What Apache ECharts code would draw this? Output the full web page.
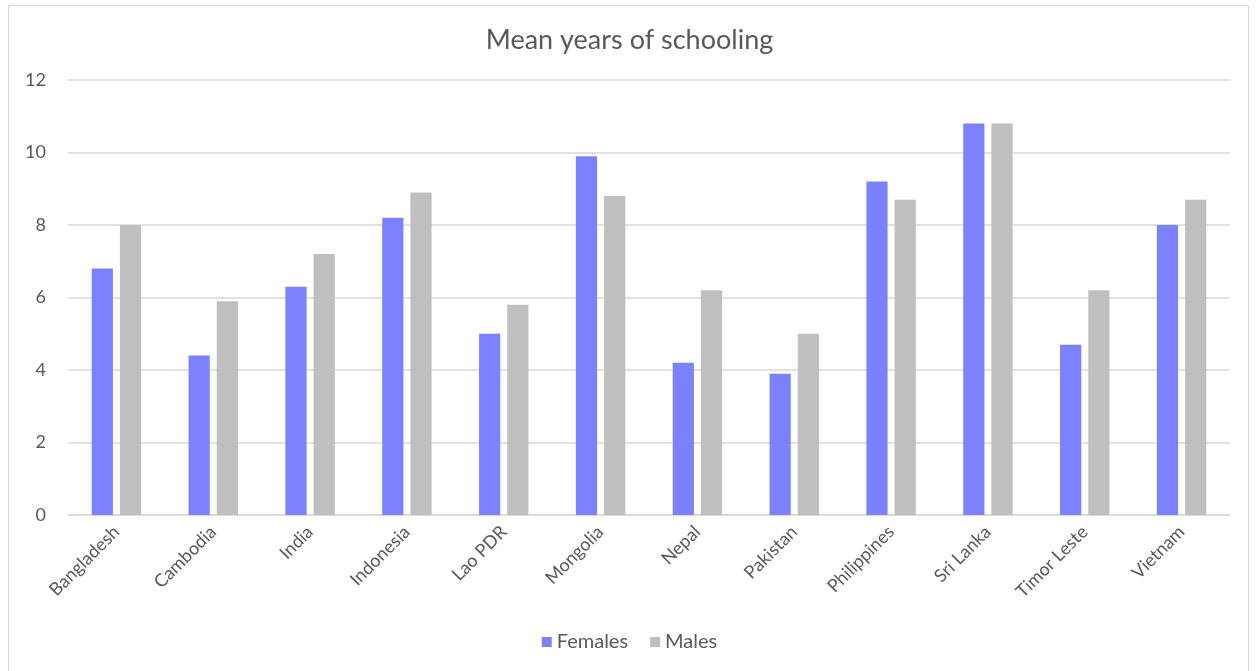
<!DOCTYPE html>
<html>
<head>
<meta charset="utf-8">
<script src="https://cdn.jsdelivr.net/npm/echarts@6/dist/echarts.min.js"></script>
<style>
  html, body { margin: 0; padding: 0; background: #fff; }
  #frame {
    position: absolute; left: 8px; top: 5px; width: 1241px; height: 680px;
    border: 1.5px solid #d9d9d9; box-sizing: border-box;
  }
  #chart { position: absolute; left: 0; top: 0; width: 1259px; height: 671px; }
</style>
</head>
<body>
<div id="frame"></div>
<div id="chart"></div>
<script>
const countries = ["Bangladesh", "Cambodia", "India", "Indonesia", "Lao PDR", "Mongolia",
  "Nepal", "Pakistan", "Philippines", "Sri Lanka", "Timor Leste", "Vietnam"];
const females = [6.8, 4.4, 6.3, 8.2, 5.0, 9.9, 4.2, 3.9, 9.2, 10.8, 4.7, 8.0];
const males = [8.0, 5.9, 7.2, 8.9, 5.8, 8.8, 6.2, 5.0, 8.7, 10.8, 6.2, 8.7];

const chart = echarts.init(document.getElementById("chart"));
const font = "Lato, 'Open Sans', sans-serif";
chart.setOption({
  animation: false,
  textStyle: { fontFamily: font },
  title: {
    text: "Mean years of schooling",
    left: "center",
    top: 22,
    textStyle: { fontSize: 27, fontWeight: "normal", color: "#595959", fontFamily: font }
  },
  legend: {
    bottom: 14,
    left: "center",
    itemWidth: 10,
    itemHeight: 10,
    itemGap: 22,
    icon: "rect",
    textStyle: { fontSize: 20, color: "#595959", fontFamily: font }
  },
  grid: { left: 68, right: 29, top: 80, bottom: 156, containLabel: false },
  xAxis: {
    type: "category",
    data: countries,
    axisLine: { show: true, lineStyle: { color: "#d9d9d9", width: 1.5 } },
    axisTick: { show: false },
    axisLabel: { rotate: 45, fontSize: 18, color: "#595959", margin: 14, interval: 0 }
  },
  yAxis: {
    type: "value",
    min: 0,
    max: 12,
    interval: 2,
    axisLine: { show: false },
    axisTick: { show: false },
    axisLabel: { fontSize: 18, color: "#595959", margin: 22 },
    splitLine: { lineStyle: { color: "#d9d9d9", width: 1.5 } }
  },
  series: [
    {
      name: "Females", type: "bar", data: females,
      barGap: "33%", barCategoryGap: "49%",
      itemStyle: { color: "#7b81ff" }
    },
    {
      name: "Males", type: "bar", data: males,
      itemStyle: { color: "#bfbfbf" }
    }
  ]
});
</script>
</body>
</html>
